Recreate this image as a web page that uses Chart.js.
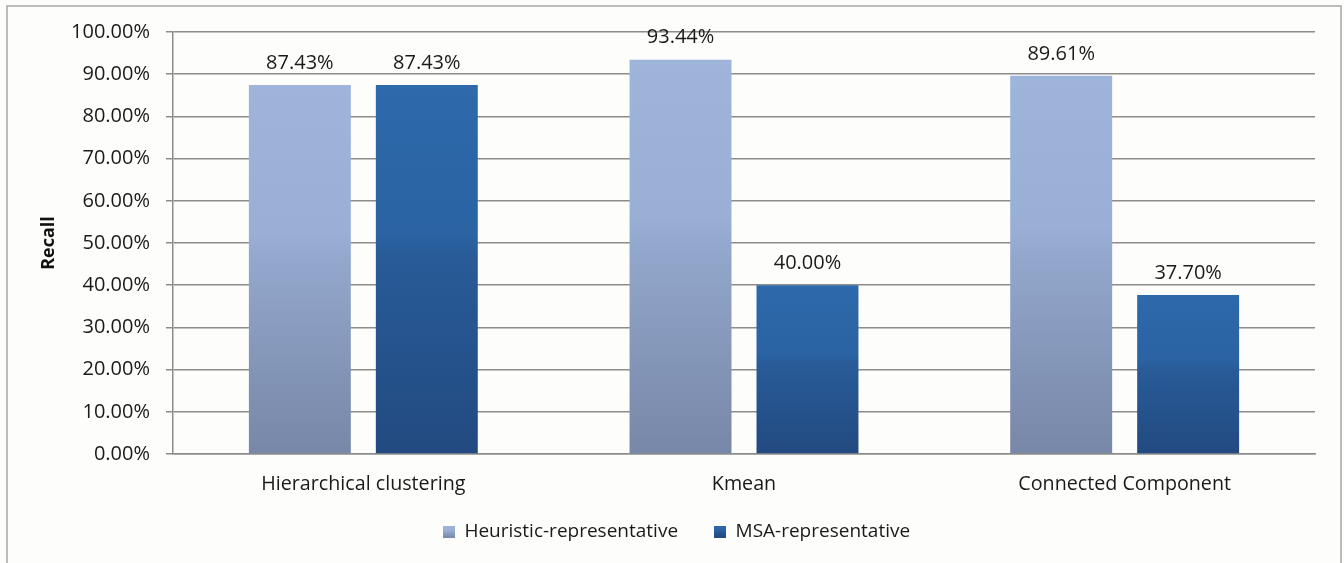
<!DOCTYPE html>
<html>
<head>
<meta charset="utf-8">
<script src="https://cdn.jsdelivr.net/npm/chart.js@4.4.1/dist/chart.umd.min.js"></script>
<style>
  html, body { margin: 0; padding: 0; background: #fdfdfb; }
  #wrap { position: relative; width: 1344px; height: 563px; }
  canvas { display: block; }
</style>
</head>
<body>
<div id="wrap"><canvas id="c" width="1344" height="563"></canvas></div>
<script>
// Recall of each clustering method, per representative-selection strategy
const categories = ['Hierarchical clustering', 'Kmean', 'Connected Component'];
const heuristicRecall = [87.43, 93.44, 89.61];
const msaRecall = [87.43, 40.00, 37.70];
const seriesNames = ['Heuristic-representative', 'MSA-representative'];
const yTicks = [0, 10, 20, 30, 40, 50, 60, 70, 80, 90, 100];

const FONT = '"Open Sans", "Liberation Sans", sans-serif';
const GRID = '#8c8c8c';
const INK = '#1a1a1a';

// vertical shading for each bar, from its top down to the zero line
const shades = {
  heuristic: [[0, '#9eb4db'], [0.4, '#9aafd6'], [0.47, '#93a8cd'], [1, '#7787a7']],
  msa: [[0, '#2d69ab'], [0.4, '#2b63a3'], [0.47, '#285b98'], [1, '#224a80']]
};

function barFill(key) {
  return function (ctx) {
    const chart = ctx.chart;
    const y = chart.scales.y;
    if (!y || ctx.type !== 'data') return shades[key][0][1];
    const top = y.getPixelForValue(ctx.parsed ? ctx.parsed.y : ctx.raw);
    const base = y.getPixelForValue(0);
    if (!isFinite(top) || !isFinite(base) || base === top) return shades[key][0][1];
    const g = chart.ctx.createLinearGradient(0, top, 0, base);
    shades[key].forEach(([o, c]) => g.addColorStop(o, c));
    return g;
  };
}

function swatch(key) {
  const cv = document.createElement('canvas');
  cv.width = 12; cv.height = 12;
  const c = cv.getContext('2d');
  const g = c.createLinearGradient(0, 0, 0, 12);
  shades[key].forEach(([o, col]) => g.addColorStop(o, col));
  c.fillStyle = g;
  c.fillRect(0, 0, 12, 12);
  return cv;
}

// outer frame around the whole figure
const framePlugin = {
  id: 'frame',
  beforeDraw(chart) {
    const c = chart.ctx;
    c.save();
    c.fillStyle = '#fdfdfb';
    c.fillRect(0, 0, chart.width, chart.height);
    c.strokeStyle = '#a6a6a6';
    c.lineWidth = 1.5;
    c.strokeRect(7, 6, 1334, 600);
    c.restore();
  }
};

// value printed above every bar
const valueLabels = {
  id: 'valueLabels',
  afterDatasetsDraw(chart) {
    const c = chart.ctx;
    c.save();
    c.font = '20px ' + FONT;
    c.fillStyle = INK;
    c.textAlign = 'center';
    c.textBaseline = 'middle';
    chart.data.datasets.forEach((ds, i) => {
      chart.getDatasetMeta(i).data.forEach((bar, j) => {
        c.fillText(ds.data[j].toFixed(2) + '%', bar.x, bar.y - 22);
      });
    });
    c.restore();
  }
};

// lift the legend row a little closer to the category labels
const legendLift = {
  id: 'legendLift',
  afterLayout(chart) {
    const lg = chart.legend;
    if (lg) { lg.top -= 11.5; lg.bottom -= 11.5; }
  }
};

new Chart(document.getElementById('c'), {
  type: 'bar',
  data: {
    labels: categories,
    datasets: [
      { label: seriesNames[0], data: heuristicRecall, backgroundColor: barFill('heuristic'), pointStyle: swatch('heuristic') },
      { label: seriesNames[1], data: msaRecall, backgroundColor: barFill('msa'), pointStyle: swatch('msa') }
    ]
  },
  options: {
    responsive: false,
    animation: false,
    devicePixelRatio: 1,
    layout: { padding: { left: 38, right: 29, top: 32, bottom: 0 } },
    categoryPercentage: 0.667,
    barPercentage: 0.803,
    plugins: {
      tooltip: { enabled: false },
      legend: {
        position: 'bottom',
        labels: {
          font: { family: FONT, size: 19 },
          color: INK,
          usePointStyle: true,
          boxWidth: 12,
          boxHeight: 12,
          padding: 36
        }
      }
    },
    scales: {
      x: {
        grid: { display: false },
        border: { display: true, color: GRID, width: 1.5 },
        ticks: { font: { family: FONT, size: 19.7 }, color: INK, padding: 11, maxRotation: 0 },
        afterFit(s) { s.height = 44; }
      },
      y: {
        min: 0,
        max: 100,
        afterBuildTicks(s) { s.ticks = yTicks.map(v => ({ value: v })); },
        ticks: {
          font: { family: FONT, size: 20 },
          color: INK,
          padding: 16,
          callback: v => Number(v).toFixed(2) + '%'
        },
        grid: { color: GRID, lineWidth: 1.5, tickLength: 7, drawTicks: true },
        border: { display: true, color: GRID, width: 1.5 },
        title: {
          display: true,
          text: 'Recall',
          font: { family: FONT, size: 18, weight: 'bold' },
          color: '#111',
          padding: { top: 0, bottom: 0 }
        },
        afterFit(s) { s.width = 135; }
      }
    }
  },
  plugins: [framePlugin, valueLabels, legendLift]
});
</script>
</body>
</html>
